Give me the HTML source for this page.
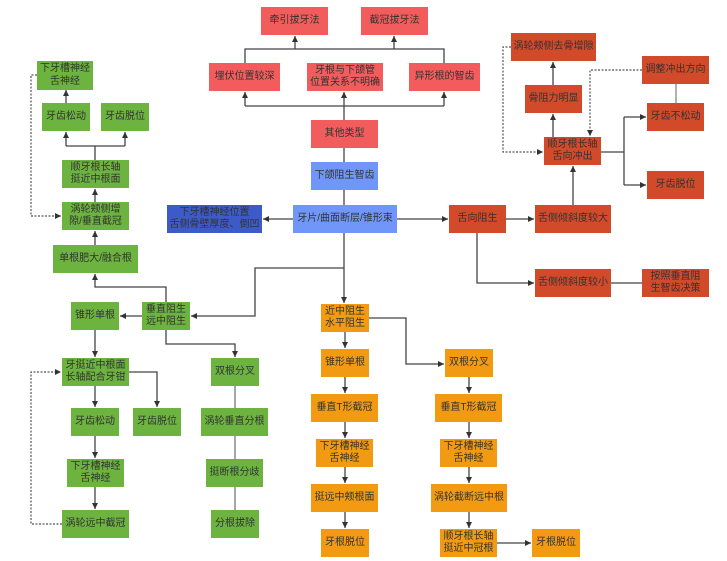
<!DOCTYPE html>
<html><head><meta charset="utf-8"><style>
html,body{margin:0;padding:0;background:#fff;}
body{width:727px;height:561px;position:relative;overflow:hidden;font-family:"Liberation Sans","Noto Sans CJK SC",sans-serif;}
.b{position:absolute;display:flex;align-items:center;justify-content:center;text-align:center;font-size:10px;line-height:12.5px;color:#333;box-sizing:border-box;white-space:nowrap;}
.r{background:#f25c5c;}
.lb{background:#6f96f8;}
.db{background:#3d5bc8;}
.o{background:#d24a2a;}
.g{background:#6cb33f;}
.y{background:#f29b12;}
svg{position:absolute;left:0;top:0;}
</style></head><body>
<svg width="727" height="561">
<defs><marker id="a" markerWidth="7" markerHeight="7" refX="6" refY="3.5" orient="auto" markerUnits="userSpaceOnUse"><path d="M0,0.5 L6,3.5 L0,6.5 z" fill="#333"/></marker></defs>
<g fill="none" stroke="#444" stroke-width="1.3">
<path d="M245,63 V49 H444 V63"/>
<path d="M295,49 V36" marker-end="url(#a)"/>
<path d="M394,49 V36" marker-end="url(#a)"/>
<path d="M245,106 H444"/>
<path d="M245,106 V92" marker-end="url(#a)"/>
<path d="M444,106 V92" marker-end="url(#a)"/>
<path d="M344,120 V92" marker-end="url(#a)"/>
<path d="M344,148 V162"/>
<path d="M344,190 V205"/>
<path d="M293,219 H263" marker-end="url(#a)"/>
<path d="M397,219 H448" marker-end="url(#a)"/>
<path d="M506,219 H534" marker-end="url(#a)"/>
<path d="M477,233 V283 H534" marker-end="url(#a)"/>
<path d="M611,283 H642"/>
<path d="M573,205 V166" marker-end="url(#a)"/>
<path d="M553,137 V114" marker-end="url(#a)"/>
<path d="M553,85 V62" marker-end="url(#a)"/>
<path d="M601,152 H624 M624,117 V185"/>
<path d="M624,117 H646" marker-end="url(#a)"/>
<path d="M624,185 H646" marker-end="url(#a)"/>
<path d="M676,84 V103" stroke="#888"/>
<path d="M344,233 V303" marker-end="url(#a)"/>
<path d="M344,268 H255 V316 H191" marker-end="url(#a)"/>
<path d="M345,332 V348" marker-end="url(#a)"/>
<path d="M345,377 V393" marker-end="url(#a)"/>
<path d="M345,422 V438" marker-end="url(#a)"/>
<path d="M345,467 V483" marker-end="url(#a)"/>
<path d="M345,512 V528" marker-end="url(#a)"/>
<path d="M369,318 H406 V364 H444" marker-end="url(#a)"/>
<path d="M469,377 V393" marker-end="url(#a)"/>
<path d="M469,422 V438" marker-end="url(#a)"/>
<path d="M469,467 V483" marker-end="url(#a)"/>
<path d="M469,512 V528" marker-end="url(#a)"/>
<path d="M497,543 H531" marker-end="url(#a)"/>
<path d="M142,316 H120" marker-end="url(#a)"/>
<path d="M166,330 V344 H235 V357" marker-end="url(#a)"/>
<path d="M235,386 V510" stroke="#777"/>
<path d="M95,330 V357" marker-end="url(#a)"/>
<path d="M129,372 H157 V407" marker-end="url(#a)"/>
<path d="M95,386 V407" marker-end="url(#a)"/>
<path d="M95,436 V458" marker-end="url(#a)"/>
<path d="M95,487 V509" marker-end="url(#a)"/>
<path d="M166,302 V287 H95 V274" marker-end="url(#a)"/>
<path d="M95,245 V231" marker-end="url(#a)"/>
<path d="M95,202 V189" marker-end="url(#a)"/>
<path d="M95,160 V146 M66,146 H125"/>
<path d="M66,146 V132" marker-end="url(#a)"/>
<path d="M125,146 V132" marker-end="url(#a)"/>
<path d="M66,103 V90" marker-end="url(#a)"/>
</g>
<g fill="none" stroke="#555" stroke-width="1.2" stroke-dasharray="2,1.5">
<path d="M37,75 H31 V216 H61" marker-end="url(#a)"/>
<path d="M62,524 H31 V372 H61" marker-end="url(#a)"/>
<path d="M511,47 H503 V152 H543" marker-end="url(#a)"/>
<path d="M642,70 H590 V136" marker-end="url(#a)"/>
</g>
</svg>

<div class="b r" style="left:261px;top:7px;width:67px;height:28px">牵引拔牙法</div>
<div class="b r" style="left:361px;top:7px;width:67px;height:28px">截冠拔牙法</div>
<div class="b r" style="left:209px;top:63px;width:71px;height:28px">埋伏位置较深</div>
<div class="b r" style="left:307px;top:63px;width:76px;height:28px">牙根与下颌管<br>位置关系不明确</div>
<div class="b r" style="left:409px;top:63px;width:71px;height:28px">异形根的智齿</div>
<div class="b r" style="left:311px;top:120px;width:67px;height:28px">其他类型</div>
<div class="b lb" style="left:311px;top:162px;width:67px;height:28px">下颌阻生智齿</div>
<div class="b lb" style="left:293px;top:205px;width:104px;height:28px">牙片/曲面断层/锥形束</div>
<div class="b db" style="left:167px;top:205px;width:95px;height:28px">下牙槽神经位置<br>舌侧骨壁厚度、倒凹</div>

<div class="b o" style="left:449px;top:205px;width:57px;height:28px">舌向阻生</div>
<div class="b o" style="left:535px;top:205px;width:76px;height:28px">舌侧倾斜度较大</div>
<div class="b o" style="left:544px;top:137px;width:57px;height:28px">顺牙根长轴<br>舌向冲出</div>
<div class="b o" style="left:525px;top:85px;width:57px;height:28px">骨阻力明显</div>
<div class="b o" style="left:511px;top:33px;width:85px;height:28px">涡轮颊侧去骨增隙</div>
<div class="b o" style="left:642px;top:56px;width:67px;height:28px">调整冲出方向</div>
<div class="b o" style="left:647px;top:103px;width:57px;height:28px">牙齿不松动</div>
<div class="b o" style="left:647px;top:171px;width:57px;height:28px">牙齿脱位</div>
<div class="b o" style="left:535px;top:269px;width:76px;height:28px">舌侧倾斜度较小</div>
<div class="b o" style="left:642px;top:269px;width:67px;height:28px">按照垂直阻<br>生智齿决策</div>

<div class="b g" style="left:37px;top:61px;width:56px;height:29px">下牙槽神经<br>舌神经</div>
<div class="b g" style="left:42px;top:103px;width:48px;height:28px">牙齿松动</div>
<div class="b g" style="left:101px;top:103px;width:48px;height:28px">牙齿脱位</div>
<div class="b g" style="left:62px;top:160px;width:67px;height:28px">顺牙根长轴<br>挺近中根面</div>
<div class="b g" style="left:62px;top:202px;width:67px;height:28px">涡轮颊侧增<br>隙/垂直截冠</div>
<div class="b g" style="left:53px;top:245px;width:85px;height:28px">单根肥大/融合根</div>
<div class="b g" style="left:142px;top:302px;width:48px;height:28px">垂直阻生<br>远中阻生</div>
<div class="b g" style="left:71px;top:302px;width:48px;height:28px">锥形单根</div>
<div class="b g" style="left:62px;top:358px;width:67px;height:28px">牙挺近中根面<br>长轴配合牙钳</div>
<div class="b g" style="left:71px;top:408px;width:48px;height:28px">牙齿松动</div>
<div class="b g" style="left:133px;top:408px;width:48px;height:28px">牙齿脱位</div>
<div class="b g" style="left:67px;top:459px;width:57px;height:28px">下牙槽神经<br>舌神经</div>
<div class="b g" style="left:62px;top:510px;width:67px;height:28px">涡轮远中截冠</div>
<div class="b g" style="left:211px;top:358px;width:48px;height:28px">双根分叉</div>
<div class="b g" style="left:201px;top:408px;width:67px;height:28px">涡轮垂直分根</div>
<div class="b g" style="left:206px;top:459px;width:57px;height:28px">挺断根分歧</div>
<div class="b g" style="left:211px;top:510px;width:48px;height:28px">分根拔除</div>

<div class="b y" style="left:321px;top:304px;width:48px;height:28px">近中阻生<br>水平阻生</div>
<div class="b y" style="left:321px;top:349px;width:48px;height:28px">锥形单根</div>
<div class="b y" style="left:311px;top:394px;width:67px;height:28px">垂直T形截冠</div>
<div class="b y" style="left:316px;top:439px;width:57px;height:28px">下牙槽神经<br>舌神经</div>
<div class="b y" style="left:311px;top:484px;width:67px;height:28px">挺远中颊根面</div>
<div class="b y" style="left:321px;top:529px;width:48px;height:28px">牙根脱位</div>
<div class="b y" style="left:445px;top:349px;width:48px;height:28px">双根分叉</div>
<div class="b y" style="left:435px;top:394px;width:67px;height:28px">垂直T形截冠</div>
<div class="b y" style="left:440px;top:439px;width:57px;height:28px">下牙槽神经<br>舌神经</div>
<div class="b y" style="left:431px;top:484px;width:76px;height:28px">涡轮截断远中根</div>
<div class="b y" style="left:440px;top:529px;width:57px;height:28px">顺牙根长轴<br>挺近中冠根</div>
<div class="b y" style="left:532px;top:529px;width:48px;height:28px">牙根脱位</div>
</body></html>
